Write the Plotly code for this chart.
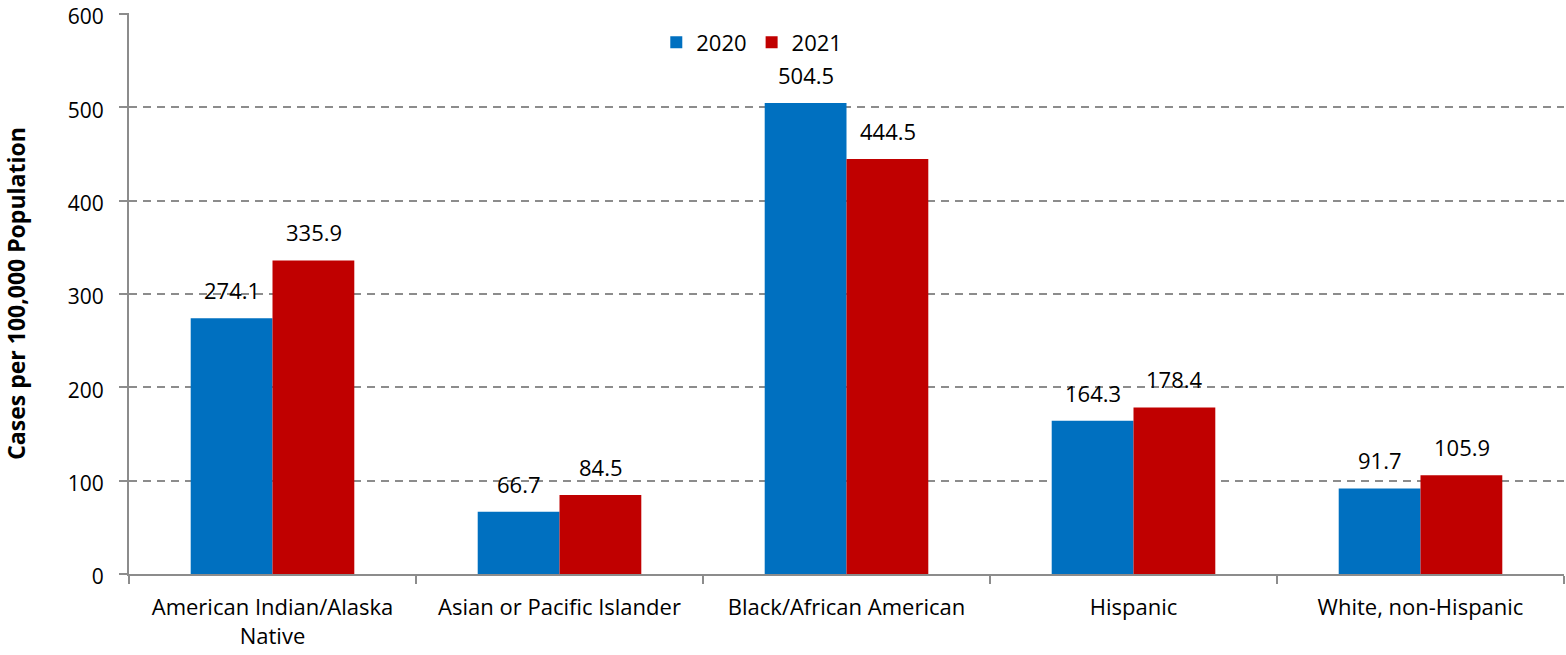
import plotly.graph_objects as go

categories = ["American Indian/Alaska<br>Native", "Asian or Pacific Islander",
              "Black/African American", "Hispanic", "White, non-Hispanic"]
values_2020 = [274.1, 66.7, 504.5, 164.3, 91.7]
values_2021 = [335.9, 84.5, 444.5, 178.4, 105.9]
y_ticks = [0, 100, 200, 300, 400, 500, 600]

FONT = "'Open Sans', sans-serif"
FS = 22

fig = go.Figure()
fig.add_trace(go.Bar(name="2020", x=categories, y=values_2020, marker_color="#0070C0",
                     marker_line_width=0))
fig.add_trace(go.Bar(name="2021", x=categories, y=values_2021, marker_color="#C00000",
                     marker_line_width=0))

annotations = []
for cat, v20, v21 in zip(categories, values_2020, values_2021):
    for v, shift in ((v20, -41), (v21, 41)):
        annotations.append(dict(x=cat, y=v, xref="x", yref="y", text=f"{v:.1f}",
                                showarrow=False, xshift=shift, yanchor="bottom", yshift=11,
                                font=dict(family=FONT, size=FS, color="#000000")))

fig.update_layout(
    width=1566, height=655,
    margin=dict(l=129, r=2, t=13, b=81),
    barmode="group", bargap=0.43, bargroupgap=0,
    plot_bgcolor="white", paper_bgcolor="white",
    font=dict(family=FONT, size=FS, color="#000000"),
    annotations=annotations,
    legend=dict(orientation="h", x=0.434, y=0.985, xanchor="center", yanchor="top",
                font=dict(size=FS), itemwidth=30, bgcolor="rgba(0,0,0,0)",
                tracegroupgap=0),
    xaxis=dict(showline=True, linecolor="#8C8C8C", linewidth=2, ticks="outside",
               tickson="boundaries", ticklen=8, tickcolor="#8C8C8C", tickwidth=2,
               tickfont=dict(size=FS), showgrid=False, automargin=False,
               ticklabelstandoff=13),
    yaxis=dict(range=[0, 601], tickvals=y_ticks, showline=True, linecolor="#8C8C8C",
               linewidth=2, ticks="outside", ticklen=8, tickcolor="#8C8C8C", tickwidth=2,
               showgrid=True, gridcolor="#8C8C8C", griddash="8px,6px", gridwidth=1.5,
               zeroline=False, tickfont=dict(size=21), automargin=False,
               ticklabelstandoff=11, ticklabeloverflow="allow", ticklabelshift=3,
               title=dict(text="<b>Cases per 100,000 Population</b>", font=dict(size=23),
                          standoff=36)),
)

fig.write_html("out.html", config={"displayModeBar": False},
               post_script="document.body.style.margin='0';document.body.style.overflow='hidden';")
